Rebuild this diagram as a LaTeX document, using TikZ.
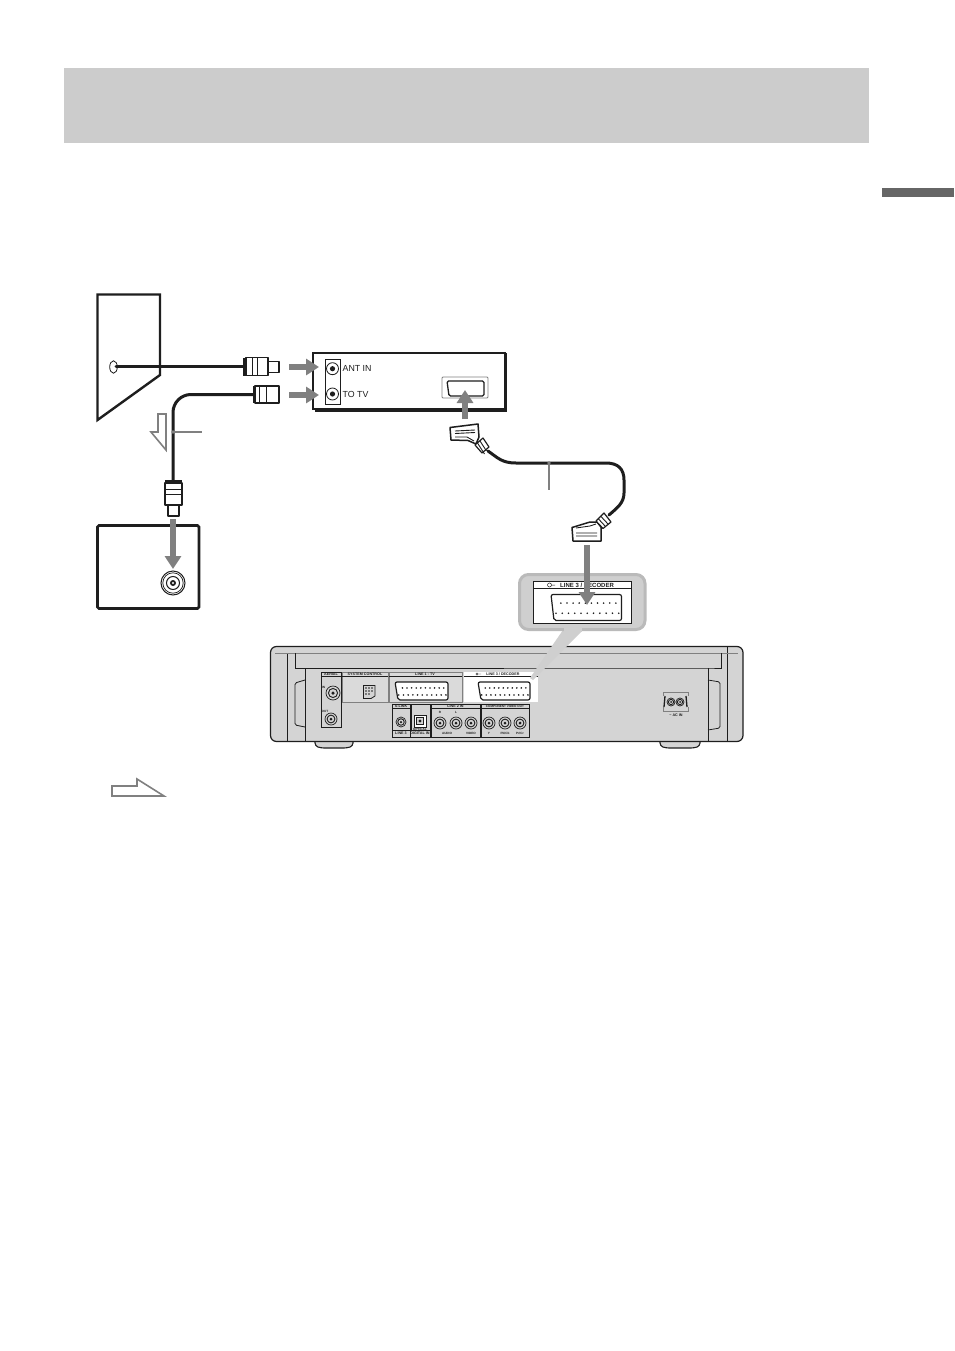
\documentclass[tikz,border=0pt]{standalone}
\usepackage{fontspec}
\setmainfont{Liberation Sans}
\usetikzlibrary{arrows.meta}
\definecolor{bandgray}{HTML}{CCCCCC}
\definecolor{tabgray}{HTML}{666666}
\definecolor{arrowgray}{HTML}{808080}
\definecolor{bodygray}{HTML}{D4D4D4}
\definecolor{calloutgray}{HTML}{CFCFCF}
\definecolor{calloutedge}{HTML}{BABABA}
\definecolor{inkdark}{HTML}{1E1E1E}
\tikzset{
  thickline/.style={draw=inkdark,line width=2.4pt,line join=miter},
  cable/.style={draw=inkdark,line width=3pt,line cap=round},
  grayarrow/.style={draw=arrowgray,line width=6.5pt,-{Triangle[width=16pt,length=13pt]}},
  outlinearrow/.style={draw=arrowgray,line width=1.6pt,fill=white,line join=miter},
  leader/.style={draw=arrowgray,line width=1.2pt},
  thin box/.style={draw=inkdark,line width=.6pt},
  plugpart/.style={draw=inkdark,line width=1.3pt,fill=white,line join=round},
  rearline/.style={draw=inkdark,line width=.8pt},
  midlabel/.style={font=\fontsize{8.8}{10}\selectfont,text=inkdark,inner sep=0pt,anchor=west},
  tinylabel/.style={font=\fontsize{3.7}{4}\selectfont\bfseries,text=inkdark,inner sep=0pt},
  tinierlabel/.style={font=\fontsize{3.1}{4}\selectfont\bfseries,text=inkdark,inner sep=0pt},
  pics/coax/.style={code={
    \fill[inkdark] (-1,-#1) rectangle (3,#1);
    \draw[plugpart] (2,-#1) rectangle (24,#1);
    \draw[inkdark,line width=1pt] (8,-#1) -- (8,#1) (13,-#1) -- (13,#1);
    \draw[plugpart] (24,-5.5) rectangle (35,5.5);
  }},
  pics/coaxshort/.style={code={
    \fill[inkdark] (-1,-#1) rectangle (2,#1);
    \draw[plugpart] (1,-#1) rectangle (25,#1);
    \draw[inkdark,line width=1pt] (5,-#1) -- (5,#1) (12,-#1) -- (12,#1);
  }}
}
\newcommand{\dsubport}[6]{% x1 y1 x2 y2 dots-top dots-bottom
  \draw[draw=inkdark,line width=1.2pt,fill=white,rounded corners=2pt]
    (#1,#2) -- (#3,#2) -- (#3,#4) -- ({#1+3},#4) -- cycle;
  \pgfmathsetmacro{\ptop}{#2+(#4-#2)*.33}
  \pgfmathsetmacro{\pbot}{#2+(#4-#2)*.72}
  \pgfmathsetmacro{\pxa}{#1+(#3-#1)*.14}
  \pgfmathsetmacro{\pxb}{#1+(#3-#1)*.92}
  \pgfmathsetmacro{\pxc}{#1+(#3-#1)*.07}
  \pgfmathsetmacro{\pxd}{#1+(#3-#1)*.96}
  \foreach \k in {1,...,#5}{\fill[inkdark] ({\pxa+(\pxb-\pxa)*(\k-1)/(#5-1)},\ptop) circle[radius=.9];}
  \foreach \k in {1,...,#6}{\fill[inkdark] ({\pxc+(\pxd-\pxc)*(\k-1)/(#6-1)},\pbot) circle[radius=.9];}
}
\newcommand{\rcajack}[3]{% x y r
  \draw[draw=inkdark,line width=.7pt,fill=bodygray] (#1,#2) circle[radius=#3];
  \draw[draw=inkdark,line width=.9pt,fill=bodygray] (#1,#2) circle[radius={#3*.65}];
  \fill[inkdark] (#1,#2) circle[radius={#3*.25}];
}
\begin{document}
\begin{tikzpicture}[x=1pt,y=-1pt]
\useasboundingbox (0,0) rectangle (954,1351);
\fill[white] (0,0) rectangle (954,1351);

% page furniture
\fill[bandgray] (64,68) rectangle (869,143);
\fill[tabgray] (882,188) rectangle (954,197);

% wall
\draw[thickline] (97.5,294.5) -- (160,294.5) -- (160,375) -- (97.5,420) -- cycle;
\draw[draw=inkdark,line width=.8pt,fill=white] (113.5,367) ellipse[x radius=3.8,y radius=6.2];

% aerial cable and plugs
\coordinate (wallhole) at (116,366.8);
\coordinate (plugA) at (244,366.8);
\draw[cable] (wallhole) -- (plugA);
\pic at (plugA) {coax=9};
\coordinate (plugB) at (253,394.5);
\coordinate (plugC) at (173,481);
\draw[cable] (plugB) -- (191,394.5) arc[start angle=-90,end angle=-180,radius=18] -- (plugC);
\pic at (254,394.5) {coaxshort=8.5};
\pic[rotate=-90] at (173.5,481) {coax=8.5};

% tuner box
\draw[draw=inkdark,line width=2.6pt] (313,353) -- (505,353) -- (505,409) -- (313,409) -- cycle;
\fill[inkdark] (315,408) rectangle (507,411.5);
\fill[inkdark] (504,353) rectangle (507,411.5);
\draw[thin box,line width=.9pt] (325,359.5) rectangle (340,404);
\foreach \yy in {368.7,394}{
  \draw[draw=inkdark,line width=.8pt] (332.5,\yy) circle[radius=6];
  \fill[inkdark] (332.5,\yy) circle[radius=2.6];
}
\node[midlabel] (antin) at (342.5,368.7) {ANT IN};
\node[midlabel] (totv) at (342.5,394.3) {TO TV};
\draw[draw=arrowgray,line width=.8pt,fill=white,rounded corners=1pt] (442,377) rectangle (488,398);
\draw[draw=inkdark,line width=1.3pt,fill=white,rounded corners=1.5pt] (447,381) -- (484,381) -- (484,396) -- (449,396) -- cycle;

% arrows to tuner
\coordinate (arrA1) at (289,367);
\coordinate (arrA2) at (319,367);
\coordinate (arrB1) at (289,395);
\coordinate (arrB2) at (319,395);
\draw[grayarrow] (arrA1) -- (arrA2);
\draw[grayarrow] (arrB1) -- (arrB2);
\coordinate (arrC1) at (465,419);
\coordinate (arrC2) at (465,390);
\draw[grayarrow] (arrC1) -- (arrC2);

% hollow direction arrow and leader
\draw[outlinearrow] (158,414) -- (166,414) -- (166,450) -- (151,432) -- (158,432) -- cycle;
\coordinate (leadA) at (173,432);
\coordinate (leadB) at (202,432);
\draw[leader] (leadA) -- (leadB);
\fill[arrowgray] (leadA) circle[radius=1.8];

% TV box
\draw[draw=inkdark,line width=2.6pt,rounded corners=1.5pt] (97.5,525.5) rectangle (199,608.5);
\coordinate (socket) at (173,583);
\draw[draw=inkdark,line width=1pt,fill=white] (socket) circle[radius=12];
\draw[draw=inkdark,line width=.7pt] (socket) circle[radius=10.2];
\draw[draw=inkdark,line width=1pt] (socket) circle[radius=6.5];
\fill[inkdark] (socket) circle[radius=3];
\fill[white] (socket) circle[radius=1.2];
\coordinate (arrD1) at (173,519);
\coordinate (arrD2) at (173,569);
\draw[grayarrow] (arrD1) -- (arrD2);

% rear panel
\draw[draw=inkdark,line width=1.1pt,fill=bodygray,rounded corners=3pt] (315,741) -- (315,746) -- (321,748) -- (347,748) -- (353,746) -- (353,741);
\draw[draw=inkdark,line width=1.1pt,fill=bodygray,rounded corners=3pt] (660,741) -- (660,746) -- (666,748) -- (694,748) -- (700,746) -- (700,741);
\draw[draw=inkdark,line width=1.2pt,fill=bodygray,rounded corners=6pt] (270.5,741.5) -- (270.5,646.5) -- (743,646.5) -- (743,741.5) -- cycle;
\draw[rearline] (287,653) -- (287,741) (727,647) -- (727,741);
\draw[draw=arrowgray,line width=.8pt] (275,653) -- (738,653);
\draw[rearline] (295,653) -- (295,668) -- (708,668) -- (721,668) -- (721,653);
\draw[rearline] (305,668) -- (305,741) (708,668) -- (708,741);
\draw[rearline,rounded corners=1.5pt] (305,680) -- (295,683) -- (295,725) -- (305,727);
\draw[rearline,rounded corners=1.5pt] (708,680) -- (720,682) -- (720,728) -- (708,730);

% aerial group
\draw[thin box,fill=bodygray] (321,672) rectangle (341,727);
\draw[thin box] (321,676) -- (341,676);
\node[tinylabel] (aerial) at (331,674) {AERIAL};
\rcajack{333}{693}{7}
\rcajack{331}{719}{6}
\node[tinierlabel] (aerialin) at (323.5,687.5) {IN};
\node[tinierlabel] (aerialout) at (325,711.5) {OUT};

% system control
\draw[thin box,fill=bodygray!85!white,draw=arrowgray] (342,672) rectangle (388,702);
\draw[thin box] (342,676) -- (388,676);
\node[tinylabel] (syscontrol) at (365,674) {SYSTEM CONTROL};
\draw[draw=inkdark,line width=.8pt,fill=bodygray] (363.5,685.5) -- (375,685.5) -- (375,696) -- (371,698.5) -- (363.5,698.5) -- cycle;
\foreach \a/\b in {366/688,369/688,372/688,366/691,369/691,372/691,366/694,369/694}{\fill[inkdark] (\a,\b) circle[radius=.8];}

% line 1
\draw[thin box,fill=bodygray!85!white,draw=arrowgray] (389,672) rectangle (462,702);
\draw[thin box] (389,676) -- (462,676);
\node[tinylabel] (line1) at (425,674) {LINE 1 - TV};
\dsubport{395}{682}{448}{700}{10}{11}

% line 3 small (white)
\fill[white] (464,672) rectangle (538,702);
\draw[thin box] (464,676) -- (538,676);
\node[tinylabel] (line3s) at (503,674) {LINE 3 / DECODER};
\draw[draw=inkdark,line width=.4pt] (477,674) circle[radius=1.1] (478,674) -- (481,674);
\dsubport{478}{682}{530}{700}{10}{11}

% lower row
\draw[thin box,fill=bodygray] (392,704) rectangle (410,730);
\draw[thin box] (392,708) -- (410,708);
\node[tinylabel] (slink) at (401,706) {S-LINK};
\rcajack{401}{722}{5}
\draw[thin box,fill=bodygray] (411,704) rectangle (430,730);
\draw[draw=inkdark,line width=.7pt,fill=white] (414,715) rectangle (426,727);
\draw[draw=inkdark,line width=.7pt,fill=bodygray] (416.5,717.5) rectangle (423.5,724.5);
\fill[inkdark] (420,721) circle[radius=1.6];
\node[tinierlabel] (optical) at (420,729) {OPTICAL};
\draw[thin box,fill=bodygray] (392,730) rectangle (430,737);
\node[tinylabel] (line3d) at (401,733.5) {LINE 3};
\node[tinylabel] (digin) at (420,733.5) {DIGITAL IN};
\draw[thin box] (410,730) -- (410,737);

\draw[thin box,fill=bodygray] (431,704) rectangle (480,737);
\draw[thin box] (431,708.5) -- (480,708.5);
\node[tinylabel] (line2) at (455.5,706.3) {LINE 2 IN};
\node[tinierlabel] (lr) at (440,712.5) {R};
\node[tinierlabel] (ll) at (456,712.5) {L};
\foreach \xx in {440,456,471}{\rcajack{\xx}{723}{6}}
\node[tinierlabel] (audio) at (447,733.5) {AUDIO};
\node[tinierlabel] (video) at (471,733.5) {VIDEO};

\draw[thin box,fill=bodygray] (481,704) rectangle (529,737);
\draw[thin box] (481,708.5) -- (529,708.5);
\node[tinierlabel] (compo) at (505,706.3) {COMPONENT VIDEO OUT};
\foreach \xx in {489,505,520}{\rcajack{\xx}{723}{6}}
\node[tinierlabel] (cy) at (489,733.5) {Y};
\node[tinierlabel] (cb) at (505,733.5) {Pb/Cb};
\node[tinierlabel] (cr) at (520,733.5) {Pr/Cr};

% AC in
\draw[thin box,draw=arrowgray,line width=1pt] (663,692) rectangle (688,711);
\fill[bodygray] (661,696) rectangle (690,707);
\draw[draw=inkdark,line width=1.3pt,fill=bodygray] (665,696) -- (664,707) (686,696) -- (687,707);
\rcajack{671}{702}{4}
\rcajack{680}{702}{4}
\node[tinylabel] (acin) at (676,715) {\textasciitilde{} AC IN};

% callout
\fill[calloutgray] (563,630) -- (583,630) -- (533,680) -- (530,678) -- cycle;
\draw[draw=calloutedge,line width=3pt,fill=calloutgray,rounded corners=9pt] (519.5,574.5) rectangle (645,629.5);
\fill[calloutgray] (564,626) rectangle (582,631.5);
\fill[white] (533,581) rectangle (631,623);
\draw[draw=inkdark,line width=.7pt] (533,581) rectangle (631,623);
\draw[draw=inkdark,line width=.7pt] (533,588.5) -- (631,588.5);
\node[font=\fontsize{6}{7}\selectfont\bfseries,text=inkdark,inner sep=0pt] (line3big) at (587,585) {LINE 3 / DECODER};
\draw[draw=inkdark,line width=.5pt] (549.5,585) circle[radius=2] (551.5,585) -- (555,585);
\dsubport{551}{594.5}{621.5}{620.5}{10}{11}

% SCART cable
\coordinate (scartU) at (488,451);
\coordinate (scartL) at (609,515);
\draw[cable] (scartU) .. controls (498,458) and (502,463) .. (516,463) -- (606,463) .. controls (618,463) and (624,469) .. (624,480) -- (624,493) .. controls (624,503) and (617,508) .. (scartL);
\coordinate (leadC) at (549,463);
\coordinate (leadD) at (549,490);
\draw[leader] (leadC) -- (leadD);
\fill[arrowgray] (leadC) circle[radius=1.8];

% SCART plugs
\draw[plugpart,line width=1.5pt] (450,427.5) -- (478,424) -- (479,437) -- (476,444) -- (468,440.5) -- (451,440) -- cycle;
\draw[inkdark,line width=.9pt] (455,431) -- (475,430) (455,433.5) -- (475,432.5) (455,437) -- (467,437) -- (474,441);
\draw[plugpart,line width=1.2pt] (475,445) -- (483,438) -- (489,447) -- (482,453) -- cycle;
\draw[inkdark,line width=.9pt] (477.5,443) -- (484.5,454) (480,441) -- (486.5,451);

\draw[plugpart,line width=1.5pt] (572,527.5) -- (590,522) -- (597,522) -- (601,527) -- (601,541) -- (573,541) -- cycle;
\draw[inkdark,line width=.9pt] (576,533) -- (597,533) (576,536) -- (597,536) (576,528) -- (590,526) -- (596,524);
\draw[plugpart,line width=1.2pt] (596,521) -- (604,513) -- (611,522) -- (603,528.5) -- cycle;
\draw[inkdark,line width=.9pt] (598.5,519) -- (605.5,526.5) (601,516.5) -- (608,524);

% arrow to callout
\coordinate (arrE1) at (587,545);
\coordinate (arrE2) at (587,605);
\draw[grayarrow] (arrE1) -- (arrE2);

% legend arrow
\draw[outlinearrow] (112,786) -- (137,786) -- (137,779) -- (164,796) -- (112,796) -- cycle;
\end{tikzpicture}
\end{document}
